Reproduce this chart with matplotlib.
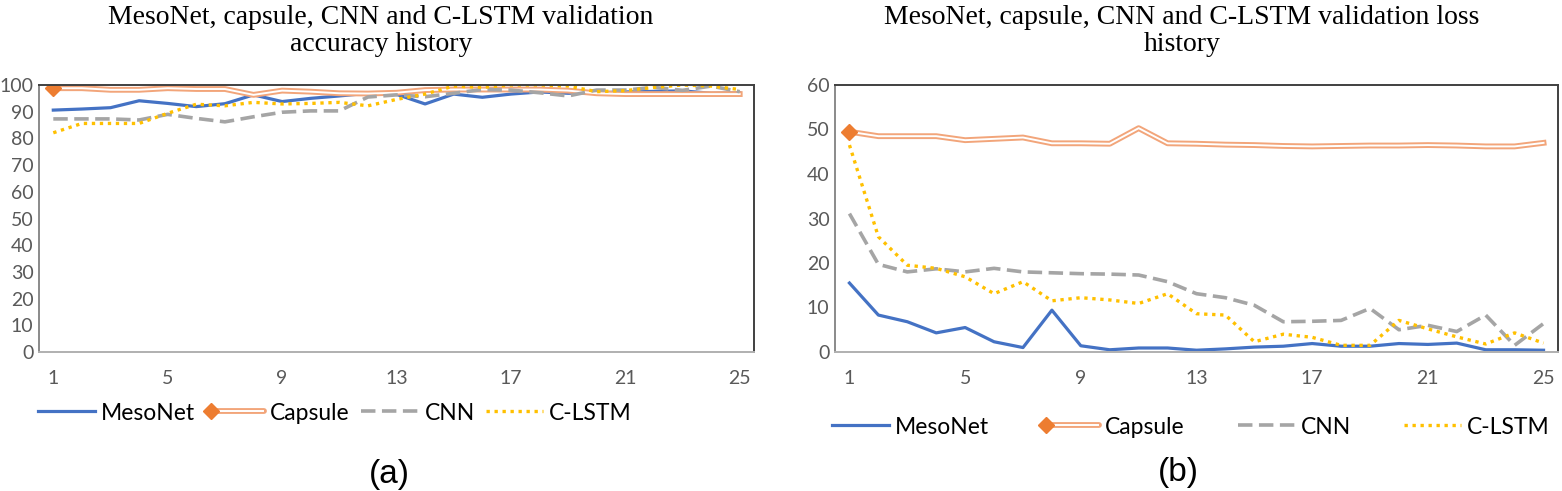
import numpy as np
import matplotlib
matplotlib.use("Agg")
import matplotlib.pyplot as plt
from matplotlib.lines import Line2D
from matplotlib.legend_handler import HandlerBase

epochs = list(range(1, 26))
xticks = [1, 5, 9, 13, 17, 21, 25]

# validation accuracy (a)
acc_mesonet = [90.6, 91.0, 91.5, 94.1, 93.1, 91.9, 93.0, 96.3, 93.8, 95.0, 95.9, 96.9, 96.5,
               92.9, 96.6, 95.4, 96.6, 97.4, 96.9, 97.1, 97.4, 97.6, 97.8, 96.9, 97.1]
acc_capsule = [98.8, 98.8, 98.2, 98.2, 98.8, 98.5, 98.5, 96.3, 97.9, 97.5, 96.9, 96.8, 97.1,
               98.1, 98.3, 98.3, 98.3, 98.3, 97.9, 96.9, 96.6, 96.6, 96.6, 96.6, 96.6]
acc_cnn = [87.3, 87.3, 87.3, 86.9, 89.0, 87.5, 86.2, 88.1, 89.8, 90.3, 90.3, 95.5, 96.3,
           95.6, 96.9, 98.3, 98.1, 97.1, 95.9, 98.1, 98.1, 99.1, 98.0, 99.6, 97.5]
acc_clstm = [82.1, 85.6, 85.6, 85.6, 89.4, 92.8, 92.2, 93.5, 92.9, 93.1, 93.5, 92.2, 94.6,
             96.6, 99.6, 99.1, 100.0, 100.0, 99.6, 97.5, 97.9, 99.1, 100.0, 99.6, 98.3]

# validation loss (b)
loss_mesonet = [15.5, 8.3, 6.8, 4.3, 5.5, 2.3, 1.0, 9.4, 1.4, 0.5, 0.9, 0.9, 0.4,
                0.7, 1.1, 1.3, 1.9, 1.3, 1.3, 1.9, 1.7, 2.0, 0.5, 0.5, 0.4]
loss_capsule = [49.5, 48.5, 48.5, 48.5, 47.6, 47.9, 48.2, 46.9, 46.9, 46.8, 50.3, 46.9, 46.8,
                46.6, 46.5, 46.3, 46.2, 46.3, 46.4, 46.4, 46.5, 46.4, 46.2, 46.2, 47.0]
loss_cnn = [31.1, 19.7, 18.0, 18.7, 18.0, 18.8, 18.0, 17.8, 17.6, 17.5, 17.3, 15.8, 13.1,
            12.2, 10.5, 6.8, 6.9, 7.1, 9.8, 5.0, 6.0, 4.6, 8.3, 1.5, 6.4]
loss_clstm = [46.5, 25.9, 19.5, 18.8, 16.9, 13.1, 15.8, 11.5, 12.2, 11.7, 10.9, 13.1, 8.6,
              8.3, 2.3, 4.0, 3.3, 1.5, 1.5, 7.1, 5.2, 3.4, 1.8, 4.3, 2.0]

C_MESO = "#4472C4"
C_CAPS = "#ED7D31"
C_CAPS_LINE = "#F2A57A"
C_CNN = "#A5A5A5"
C_CLSTM = "#FFC000"
SANS = ["Lato", "DejaVu Sans"]

fig = plt.figure(figsize=(15.62, 4.91), dpi=100)


class CapsuleHandler(HandlerBase):
    # double line with the diamond at its left end, as in the original legend
    def create_artists(self, legend, orig_handle, xdescent, ydescent,
                       width, height, fontsize, trans):
        y = height / 2 - ydescent
        x0, x1 = -xdescent + 3, width - xdescent
        outer = Line2D([x0, x1], [y, y], color=C_CAPS_LINE, lw=4.2,
                       solid_capstyle="round", transform=trans)
        inner = Line2D([x0, x1 - 1], [y, y], color="white", lw=1.4, transform=trans)
        mark = Line2D([x0], [y], marker="D", color=C_CAPS, ms=8, ls="none",
                      transform=trans)
        return [outer, inner, mark]


def draw(ax, meso, caps, cnn, clstm, ymax):
    ax.plot(epochs, meso, color=C_MESO, lw=2.3, solid_joinstyle="round")
    ax.plot(epochs, caps, color=C_CAPS_LINE, lw=4.2, solid_joinstyle="round")
    ax.plot(epochs, caps, color="white", lw=1.4, solid_joinstyle="round")
    ax.plot(epochs[:1], caps[:1], "D", color=C_CAPS, ms=8)
    ax.plot(epochs, cnn, color=C_CNN, lw=2.6, ls=(0, (4, 1.8)))
    ax.plot(epochs, clstm, color=C_CLSTM, lw=2.4, ls=(0, (1, 1.4)))
    ax.set_xlim(0.5, 25.5)
    ax.set_ylim(0, ymax)
    ax.set_yticks(np.arange(0, ymax + 1, 10))
    ax.set_xticks(xticks)
    ax.tick_params(length=0, labelsize=14, labelcolor="#595959")
    ax.tick_params(axis="y", pad=4)
    ax.tick_params(axis="x", pad=13)
    for lab in ax.get_xticklabels() + ax.get_yticklabels():
        lab.set_family(SANS)
    ax.spines["left"].set_color("#8a8a8a")
    ax.spines["bottom"].set_color("#b0b0b0")
    ax.spines["top"].set_color("#404040")
    ax.spines["right"].set_color("#404040")
    for s in ax.spines.values():
        s.set_linewidth(1.4)


caps_key = Line2D([], [])


def legend_handles():
    meso = Line2D([], [], color=C_MESO, lw=2.3)
    cnn = Line2D([], [], color=C_CNN, lw=2.6, ls=(0, (4, 1.8)))
    clstm = Line2D([], [], color=C_CLSTM, lw=2.4, ls=(0, (1, 1.4)))
    return [meso, caps_key, cnn, clstm]


labels = ["MesoNet", "Capsule", "CNN", "C-LSTM"]

ax1 = fig.add_axes([39 / 1562, 1 - 352 / 491, 715 / 1562, 267 / 491])
draw(ax1, acc_mesonet, acc_capsule, acc_cnn, acc_clstm, 100)
ax2 = fig.add_axes([835 / 1562, 1 - 352 / 491, 723 / 1562, 267 / 491])
draw(ax2, loss_mesonet, loss_capsule, loss_cnn, loss_clstm, 60)

fig.text(381 / 1562, 1 - 31 / 491,
         "MesoNet, capsule, CNN and C-LSTM validation\naccuracy history",
         ha="center", va="center", fontsize=20, family="Liberation Serif", linespacing=1.1)
fig.text(1182 / 1562, 1 - 31 / 491,
         "MesoNet, capsule, CNN and C-LSTM validation loss\nhistory",
         ha="center", va="center", fontsize=20, family="Liberation Serif", linespacing=1.1)

hmap = {caps_key: CapsuleHandler()}
fig.legend(legend_handles(), labels, loc="center left", bbox_to_anchor=(38 / 1562, 1 - 413 / 491),
           ncol=4, frameon=False, borderpad=0, borderaxespad=0,
           handlelength=2.5, handletextpad=0.26, columnspacing=0.5,
           prop={"family": SANS, "size": 16.5}, handler_map=hmap)
fig.legend(legend_handles(), labels, loc="center left", bbox_to_anchor=(832 / 1562, 1 - 427 / 491),
           ncol=4, frameon=False, borderpad=0, borderaxespad=0,
           handlelength=2.5, handletextpad=0.26, columnspacing=2.3,
           prop={"family": SANS, "size": 16.5}, handler_map=hmap)

fig.text(389 / 1562, 1 - 475 / 491, "(a)", ha="center", va="center", fontsize=24,
         family="Liberation Sans")
fig.text(1178 / 1562, 1 - 472 / 491, "(b)", ha="center", va="center", fontsize=24,
         family="Liberation Sans")

fig.savefig("out.png", dpi=100)
